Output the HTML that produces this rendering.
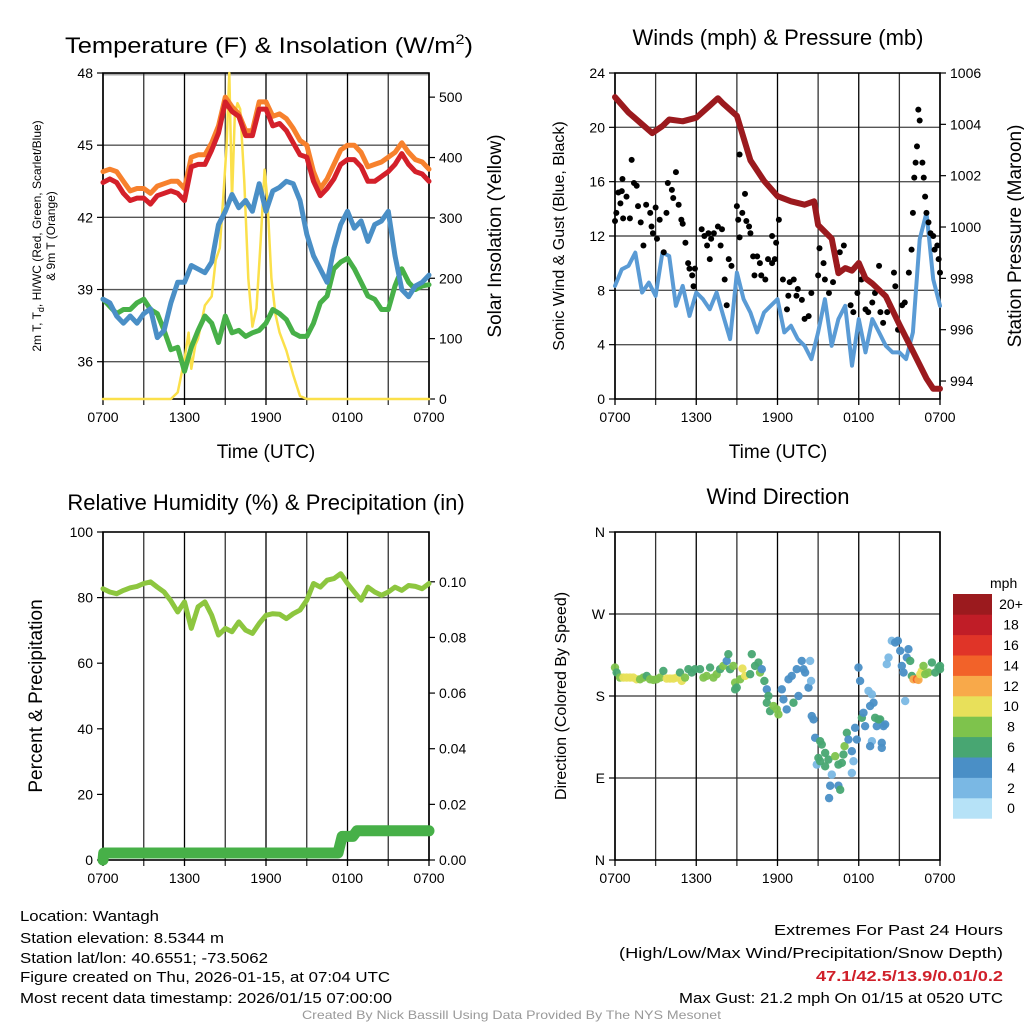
<!DOCTYPE html>
<html><head><meta charset="utf-8">
<style>
html,body{margin:0;padding:0;background:#fff;}
svg{display:block;font-family:"Liberation Sans",Arial,sans-serif;}
</style></head>
<body>
<svg id="fig" width="1024" height="1024" viewBox="0 0 1024 1024" xmlns="http://www.w3.org/2000/svg">
<g id="g1"></g>
<g id="g2"></g>
<g id="g3"></g>
<g id="g4"></g>

<text x="65" y="53" font-size="22" textLength="408" lengthAdjust="spacingAndGlyphs">Temperature (F) &amp; Insolation (W/m<tspan font-size="14" dy="-9">2</tspan><tspan dy="9">)</tspan></text>
<text x="778" y="45" font-size="22" text-anchor="middle">Winds (mph) &amp; Pressure (mb)</text>
<text x="266" y="510" font-size="22" text-anchor="middle">Relative Humidity (%) &amp; Precipitation (in)</text>
<text x="778" y="504" font-size="22" text-anchor="middle">Wind Direction</text>

<text x="266" y="458" font-size="19" text-anchor="middle">Time (UTC)</text>
<text x="778" y="458" font-size="19" text-anchor="middle">Time (UTC)</text>

<text transform="translate(41,236) rotate(-90)" font-size="12" text-anchor="middle">2m T, T<tspan font-size="9" dy="3">d</tspan><tspan dy="-3">, HI/WC (Red, Green, Scarlet/Blue)</tspan></text>
<text transform="translate(55,236) rotate(-90)" font-size="12" text-anchor="middle">&amp; 9m T (Orange)</text>
<text transform="translate(501,236) rotate(-90)" font-size="19" text-anchor="middle">Solar Insolation (Yellow)</text>
<text transform="translate(564,236) rotate(-90)" font-size="16" text-anchor="middle">Sonic Wind &amp; Gust (Blue, Black)</text>
<text transform="translate(1021,236) rotate(-90)" font-size="19" text-anchor="middle">Station Pressure (Maroon)</text>
<text transform="translate(42,696) rotate(-90)" font-size="19" text-anchor="middle">Percent &amp; Precipitation</text>
<text transform="translate(566,696) rotate(-90)" font-size="16" text-anchor="middle">Direction (Colored By Speed)</text>

<g font-size="15">
<text x="20" y="921" textLength="139" lengthAdjust="spacingAndGlyphs">Location: Wantagh</text>
<text x="20" y="943" textLength="204" lengthAdjust="spacingAndGlyphs">Station elevation: 8.5344 m</text>
<text x="20" y="963" textLength="248" lengthAdjust="spacingAndGlyphs">Station lat/lon: 40.6551; -73.5062</text>
<text x="20" y="982" textLength="370" lengthAdjust="spacingAndGlyphs">Figure created on Thu, 2026-01-15, at 07:04 UTC</text>
<text x="20" y="1003" textLength="372" lengthAdjust="spacingAndGlyphs">Most recent data timestamp: 2026/01/15 07:00:00</text>
</g>
<g font-size="15">
<text x="774" y="935" textLength="229" lengthAdjust="spacingAndGlyphs">Extremes For Past 24 Hours</text>
<text x="619" y="958" textLength="384" lengthAdjust="spacingAndGlyphs">(High/Low/Max Wind/Precipitation/Snow Depth)</text>
<text x="816" y="981" textLength="187" lengthAdjust="spacingAndGlyphs" fill="#d0202a" font-weight="bold">47.1/42.5/13.9/0.01/0.2</text>
<text x="679" y="1003" textLength="324" lengthAdjust="spacingAndGlyphs">Max Gust: 21.2 mph On 01/15 at 0520 UTC</text>
</g>
<text x="302" y="1019" font-size="12" fill="#999" textLength="419" lengthAdjust="spacingAndGlyphs">Created By Nick Bassill Using Data Provided By The NYS Mesonet</text>
</svg>
<script>
// ---------- data ----------
const xTickLabels = ["0700","1300","1900","0100","0700"];
const halfHours = []; for (let i = 0; i <= 48; i++) halfHours.push(i * 0.5);

const tempRed = [43.45,43.6,43.45,43.0,42.7,42.8,42.8,42.55,42.9,43.0,43.1,43.0,42.7,44.1,44.2,44.2,44.8,45.5,46.8,46.4,46.2,45.4,45.4,46.5,46.5,45.8,45.9,45.6,45.1,44.6,44.5,43.5,42.9,43.2,43.6,44.2,44.4,44.4,44.1,43.5,43.5,43.7,43.9,44.2,44.65,44.2,43.9,43.8,43.5];
const tempOrange = [43.9,44.0,43.9,43.5,43.1,43.2,43.2,43.0,43.3,43.4,43.5,43.5,43.2,44.5,44.6,44.6,45.1,45.8,47.0,46.6,46.3,45.6,45.6,46.8,46.8,46.2,46.3,46.1,45.7,45.2,45.0,43.9,43.2,43.6,44.2,44.8,45.0,45.0,44.7,44.1,44.2,44.3,44.5,44.7,45.1,44.7,44.4,44.3,44.0];
const hiwcBlue = [38.6,38.45,37.9,37.6,37.9,37.6,38.0,38.2,37.0,37.3,38.45,39.3,39.3,40.0,39.85,39.7,40.15,41.7,42.25,42.95,42.4,42.7,42.25,43.4,42.25,43.1,43.25,43.5,43.4,42.7,41.3,40.4,39.85,39.3,40.7,41.7,42.25,41.55,41.85,41.0,41.7,41.85,42.25,40.4,39.0,38.7,39.15,39.3,39.6];
const dewGreen = [38.6,38.3,38.0,38.17,38.17,38.45,38.6,38.17,38.0,37.3,36.5,36.6,35.6,36.6,37.3,37.9,37.6,36.8,37.9,37.2,37.3,37.05,37.2,37.3,37.6,38.17,38.0,37.75,37.2,37.05,37.05,37.6,38.45,38.73,39.86,40.14,40.3,39.86,39.3,38.73,38.6,38.17,38.17,39.15,39.86,39.3,39.0,39.15,39.2];
const solarHours = [0,5,5.5,6,6.3,6.5,6.8,7,7.5,8,8.3,8.6,8.9,9.1,9.3,9.5,9.7,9.9,10.1,10.4,10.7,11,11.3,11.6,11.9,12.1,12.4,12.7,13,13.5,14,14.5,15,24];
const solarVals = [0,0,11,66,110,50,90,100,155,170,230,250,350,420,540,330,470,490,480,360,200,120,150,260,380,330,200,140,110,80,40,5,0,0];
const tempTicks = [36,39,42,45,48];
const solarTicks = [0,100,200,300,400,500];

const windBlue = [8.33,9.55,9.8,10.78,7.84,8.57,7.59,10.78,10.53,6.86,8.33,6.12,7.84,7.35,6.61,7.84,6.12,4.41,9.31,7.35,6.37,4.9,6.37,6.86,7.35,4.9,5.39,4.41,3.92,2.94,4.9,7.35,3.92,5.88,6.86,2.45,5.88,3.43,5.88,4.9,3.92,3.43,3.43,2.94,4.9,11.76,13.72,8.82,6.86];
const gustHours = [0,0.1,0.25,0.5,0.4,0.6,0.55,0.85,1.1,1.23,1.4,1.6,1.7,1.9,2.1,2.3,2.6,2.7,2.8,3.1,3.0,3.3,3.6,3.8,3.9,4.2,4.3,4.5,4.7,4.9,5.0,5.2,5.4,5.5,5.7,5.9,5.8,6.4,6.6,6.9,6.8,7.0,7.1,7.3,7.6,7.9,7.8,8.1,8.25,8.4,8.6,9.0,9.1,9.2,9.2,9.4,9.6,9.7,9.9,10.0,10.2,10.5,10.7,10.3,10.8,11.1,11.3,11.6,11.8,11.6,11.9,12.1,12.4,12.7,12.9,12.8,13.2,13.4,13.5,13.8,14.0,14.3,14.5,15.0,15.1,15.4,15.5,15.8,16.1,16.4,16.6,16.9,17.1,17.4,17.6,17.9,18.2,18.5,18.7,19.0,19.2,19.5,19.6,19.8,20.1,20.3,20.6,20.7,20.9,21.2,21.4,21.7,21.9,22.0,22.1,22.2,22.3,22.4,22.5,22.7,22.8,22.9,23.0,23.15,23.3,23.5,23.6,23.8,23.9,24.0];
const gustVals = [13.1,13.7,15.2,15.3,14.4,13.3,16.2,14.9,13.3,17.6,15.9,15.7,14.2,13.0,11.3,14.3,13.7,12.7,12.2,11.8,14.1,13.2,10.8,13.7,15.9,15.4,14.8,16.7,14.3,13.2,12.9,11.5,10.0,9.6,9.1,9.6,8.3,12.5,12.0,12.2,11.3,10.3,11.8,12.2,12.7,12.5,11.3,8.8,6.9,10.3,9.8,14.2,13.2,11.9,18.0,13.7,15.1,13.1,12.7,12.2,10.5,10.5,10.0,9.1,9.1,8.8,10.3,10.0,10.3,12.0,11.5,13.2,8.8,6.6,8.6,7.6,8.8,7.6,8.1,7.3,5.9,6.1,7.8,9.1,11.1,10.0,8.8,7.8,8.6,9.8,10.8,11.3,9.6,6.9,6.4,7.8,8.8,6.6,6.4,7.1,7.8,9.8,6.4,5.6,6.4,6.9,9.3,8.3,5.1,6.9,7.1,9.3,11.0,13.7,16.3,17.4,18.6,21.3,20.5,17.4,16.3,14.9,13.7,13.0,12.2,12.0,11.0,11.3,10.3,9.3];
const presHours = [0,1,2,2.75,3.5,4,5,6,7,7.6,8,9,10,11,12,13,14,14.7,15,16,16.5,17,17.5,18,18.5,19,20,21,22,23,23.5,24];
const presVals = [1005.06,1004.46,1004.0,1003.66,1003.93,1004.19,1004.12,1004.26,1004.73,1005.02,1004.8,1004.33,1002.6,1001.8,1001.2,1001.0,1000.87,1001.0,1000.08,999.55,998.2,998.4,998.3,998.6,998.0,997.8,997.3,996.2,995.16,994.1,993.7,993.7];
const windTicks = [0,4,8,12,16,20,24];
const presTicks = [994,996,998,1000,1002,1004,1006];

const rhVals = [82.7,81.7,81.2,82.2,83.0,83.4,84.3,84.8,83.2,81.7,79.0,75.6,78.7,70.6,77.2,78.7,74.6,68.6,70.6,69.6,72.6,70.1,69.1,72.1,74.6,75.1,74.9,73.6,75.1,76.2,79.2,84.3,83.2,85.3,85.8,87.3,84.3,81.7,79.2,83.2,81.7,80.7,81.7,83.2,82.2,83.7,83.4,82.7,84.3];
const precipHours = [0,0.05,17.3,17.6,18.4,18.7,24];
const precipVals = [0,0.0025,0.0025,0.0085,0.0085,0.0105,0.0105];
const rhTicks = [0,20,40,60,80,100];
const precipTicks = ["0.00","0.02","0.04","0.06","0.08","0.10"];

const dirHours = [0,0.12,0.37,0.62,0.86,1.11,1.35,1.6,1.85,2.09,2.34,2.59,2.83,3.08,3.33,3.57,3.82,4.06,4.31,4.56,4.93,4.8,5.17,5.42,5.67,5.91,6.28,6.53,6.77,7.02,7.27,7.51,7.76,8.0,8.25,8.37,8.5,8.74,8.87,8.99,8.87,9.24,9.41,9.61,9.98,10.1,10.34,10.59,10.71,10.84,11.03,11.21,11.33,11.21,11.45,11.7,11.95,12.07,12.32,12.44,12.68,12.81,13.05,13.18,13.42,13.55,13.79,13.92,14.04,14.29,14.41,14.48,14.53,14.66,14.78,15.15,15.27,15.52,15.02,14.9,15.15,15.52,15.76,16.01,16.26,16.5,16.75,16.87,16.95,17.12,17.24,17.49,17.61,17.49,17.73,17.86,17.98,18.1,18.23,18.35,18.47,18.72,18.84,18.97,19.09,19.21,19.33,19.46,19.58,19.7,19.83,19.95,18.97,18.84,19.7,15.89,16.5,16.63,15.81,20.07,20.2,20.44,20.69,20.89,21.06,21.18,21.31,21.43,21.55,21.67,21.8,21.92,22.04,22.29,22.41,22.54,22.66,22.78,22.91,23.15,23.4,23.65,23.89,24,24];
const dirDeg = [211.2,205.7,200.2,200.2,200.2,200.2,200.2,198.3,198.3,200.2,202.0,198.3,197.6,198.3,200.2,207.5,199.1,199.1,199.1,200.2,196.5,205.7,200.2,209.4,205.7,209.4,209.4,200.2,202.0,211.2,200.2,203.9,209.4,213.0,218.5,225.9,209.4,213.0,194.7,189.2,187.3,198.3,210.1,202.0,203.9,225.9,213.0,216.7,205.7,209.4,196.5,187.3,180.0,172.6,163.4,169.0,165.3,159.8,187.3,176.3,165.3,198.3,202.0,172.6,209.4,180.0,218.5,209.4,205.7,189.2,218.5,196.5,157.9,154.3,134.1,130.4,126.7,117.5,112.0,104.7,108.4,102.8,110.2,93.7,113.9,104.7,106.5,115.7,124.9,139.6,132.2,119.4,108.4,95.5,145.1,132.2,211.2,196.5,156.1,161.6,146.9,185.5,169.0,181.8,172.6,156.1,146.9,154.3,154.3,128.6,146.9,148.8,130.4,124.9,123.0,81.5,81.5,77.1,67.9,214.9,222.2,240.6,238.7,240.6,229.6,213.0,205.7,174.5,222.2,231.4,218.5,202.0,198.3,198.3,197.6,203.9,207.5,213.0,203.9,205.7,216.7,205.7,211.2,213.0,209.4];
const dirSpeed = [8,6,8,10,10,10,10,10,8,8,6,8,8,8,8,6,10,10,10,10,10,6,8,6,6,6,6,8,8,6,8,8,6,8,4,6,6,8,8,6,6,8,10,10,6,6,6,6,8,4,6,4,6,6,6,8,8,8,4,4,4,4,4,6,4,4,4,4,4,4,2,2,4,4,4,6,6,6,6,2,6,6,6,2,8,6,6,6,8,6,4,4,2,2,4,4,4,4,6,4,4,2,4,2,4,6,4,6,6,4,4,4,2,4,4,4,4,6,4,2,2,2,4,4,4,4,4,2,4,4,6,6,12,14,12,10,10,8,8,8,6,6,6,6,6,6,6];
const speedBins = ["0","2","4","6","8","10","12","14","16","18","20+"];
const speedColors = ["#b6e2f7","#7ab8e4","#4a8fc6","#48a672","#7ec34c","#e8e05a","#f8a94a","#f26229","#e03428","#c01d27","#9b1a1e"];
const dirTicks = ["N","E","S","W","N"];

// ---------- helpers ----------
const NS = "http://www.w3.org/2000/svg";
function mk(parent, tag, attrs) {
  const e = document.createElementNS(NS, tag);
  for (const k in attrs) e.setAttribute(k, attrs[k]);
  parent.appendChild(e);
  return e;
}
function linScale(d0, d1, r0, r1) { return v => r0 + (v - d0) / (d1 - d0) * (r1 - r0); }

function frame(g, L, R, T, B, hLinesY) {
  hLinesY.forEach(y => {
    const ln = mk(g, "line", {x1:L, x2:R, y1:y, y2:y, stroke:"#555", "stroke-width":1.4});
    
    
  });
  const xs = linScale(0, 24, L, R);
  for (let h = 0; h <= 24; h += 3) {
    const ln = mk(g, "line", {x1:xs(h), x2:xs(h), y1:T, y2:B+6, stroke:(h%6===0?"#000":"#333"), "stroke-width":1.3});
    
    
  }
  xTickLabels.forEach((t, i) => {
    const tx = mk(g, "text", {x:xs(i*6), y:B+23, "font-size":14, "text-anchor":"middle"});
    tx.textContent = t;
    
    
  });
  const box = mk(g, "rect", {x:L, y:T, width:R-L, height:B-T, fill:"none", stroke:"#000", "stroke-width":1.6});
  
  
  return xs;
}
function yTicks(g, x, side, vals, ys, labels, name) {
  vals.forEach((v, i) => {
    const y = ys(v);
    mk(g, "line", {x1:x, x2:x + side*6, y1:y, y2:y, stroke:"#000", "stroke-width":1.2});
    const tx = mk(g, "text", {x:x + side*10, y:y+5, "font-size":14, "text-anchor": side<0 ? "end" : "start"});
    tx.textContent = labels ? labels[i] : String(v);
    
    
  });
}
function polyline(g, xsArr, ysArr, xs, ys, color, w, name) {
  const d = xsArr.map((h, i) => (i ? "L" : "M") + xs(h).toFixed(1) + "," + ys(ysArr[i]).toFixed(1)).join("");
  const p = mk(g, "path", {d:d, fill:"none", stroke:color, "stroke-width":w, "stroke-linejoin":"round", "stroke-linecap":"round"});
  
  
  return p;
}

// ---------- panel 1 ----------
(function(){
  const g = document.getElementById("g1");
  const L=103, R=429, T=73, B=399;
  const yT = linScale(34.45, 48, B, T);
  const yS = linScale(0, 540, B, T);
  mk(g, "line", {x1:L, x2:R, y1:T+1, y2:T+1, stroke:"#aaa", "stroke-width":3});
  const xs = frame(g, L, R, T, B, tempTicks.slice(0,4).map(yT));
  yTicks(g, L, -1, tempTicks, yT, null, "temp-y-tick-label");
  yTicks(g, R, 1, solarTicks, yS, null, "solar-y-tick-label");
  polyline(g, solarHours, solarVals, xs, yS, "#fbe04a", 2.5, "solar-line");
  polyline(g, halfHours, dewGreen, xs, yT, "#47b048", 5, "dewpoint-line");
  polyline(g, halfHours, hiwcBlue, xs, yT, "#4a8fc6", 5, "heat-index-windchill-line");
  polyline(g, halfHours, tempOrange, xs, yT, "#f7812d", 5, "temp-9m-line");
  polyline(g, halfHours, tempRed, xs, yT, "#d4202a", 5, "temp-2m-line");
})();

// ---------- panel 2 ----------
(function(){
  const g = document.getElementById("g2");
  const L=615, R=940, T=73, B=399;
  const yW = linScale(0, 24, B, T);
  const yP = linScale(993.3, 1006, B, T);
  const xs = frame(g, L, R, T, B, windTicks.slice(1,6).map(yW));
  yTicks(g, L, -1, windTicks, yW, null, "wind-y-tick-label");
  yTicks(g, R, 1, presTicks, yP, null, "pressure-y-tick-label");
  polyline(g, halfHours, windBlue, xs, yW, "#5a9bd5", 4, "sonic-wind-line");
  gustHours.forEach((h, i) => {
    const c = mk(g, "circle", {cx:xs(h), cy:yW(gustVals[i]), r:3, fill:"#000"});
    
    
  });
  polyline(g, presHours, presVals, xs, yP, "#9b1a1e", 6, "pressure-line");
})();

// ---------- panel 3 ----------
(function(){
  const g = document.getElementById("g3");
  const L=103, R=429, T=532, B=860;
  const yR = linScale(0, 100, B, T);
  const yPr = linScale(0, 0.1179, B, T);
  const xs = frame(g, L, R, T, B, [yR(80)]);
  yTicks(g, L, -1, rhTicks, yR, null, "humidity-y-tick-label");
  yTicks(g, R, 1, [0,0.02,0.04,0.06,0.08,0.10], yPr, precipTicks, "precip-y-tick-label");
  polyline(g, halfHours, rhVals, xs, yR, "#8dc63f", 5, "humidity-line");
  polyline(g, precipHours, precipVals, xs, yPr, "#47b048", 11, "precip-line");
})();

// ---------- panel 4 ----------
(function(){
  const g = document.getElementById("g4");
  const L=615, R=940, T=532, B=860;
  const yD = linScale(0, 360, B, T);
  const xs = frame(g, L, R, T, B, [90,180,270].map(yD));
  yTicks(g, L, -1, [0,90,180,270,360], yD, dirTicks, "direction-y-tick-label");
  const n = Math.min(dirHours.length, dirDeg.length);
  for (let i = 0; i < n; i++) {
    const sp = dirSpeed[i] === undefined ? 6 : dirSpeed[i];
    const idx = Math.min(10, Math.round(sp / 2));
    const c = mk(g, "circle", {cx:xs(dirHours[i]), cy:yD(dirDeg[i]), r:4.2, fill:speedColors[idx], opacity:0.95});
    
    
  }
  const cb = mk(document.getElementById("fig"), "g", {});
  
  
  const cbT = 594, cbH = 20.4;
  const ttl = mk(cb, "text", {x:990, y:588, "font-size":14});
  ttl.textContent = "mph";
  
  
  speedBins.forEach((lab, i) => {
    const k = speedBins.length - 1 - i;
    const y = cbT + k * cbH;
    const r = mk(cb, "rect", {x:953, y:y, width:39, height:cbH+0.3, fill:speedColors[i]});
    
    
    const t = mk(cb, "text", {x:1011, y:y+cbH/2+5, "font-size":14, "text-anchor":"middle"});
    t.textContent = lab;
    
    
  });
})();
</script>
</body></html>
